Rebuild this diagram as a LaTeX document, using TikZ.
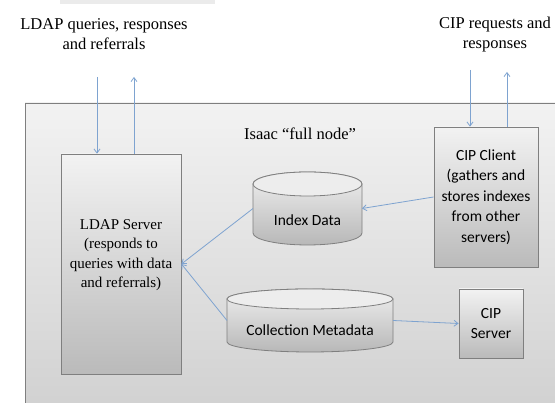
\documentclass[tikz,border=0pt]{standalone}
\usepackage{fontspec}
\setmainfont{Liberation Serif}
\newfontfamily\carlitofont{Carlito}
\usetikzlibrary{arrows.meta,shadows}
\definecolor{arrowblue}{HTML}{7EA3D0}
\definecolor{bordergray}{HTML}{7F7F7F}
\tikzset{
  conn/.style={draw=arrowblue,line width=0.8pt,-{Straight Barb[length=4pt,width=6pt]}},
  procbox/.style={draw=bordergray,line width=0.8pt,top color=black!5,bottom color=black!27,
    drop shadow={shadow xshift=1.2pt,shadow yshift=-1.2pt,opacity=0.3},align=center,inner sep=0pt},
  serifsm/.style={font=\fontsize{15}{19.5}\selectfont,align=center,inner sep=0pt},
  sanssm/.style={font=\carlitofont\fontsize{15.5}{20.5}\selectfont},
  lbl/.style={font=\fontsize{16.5}{20}\selectfont,align=center,inner sep=0pt},
  cylbody/.style={draw=bordergray,line width=0.8pt,top color=black!6,bottom color=black!28},
  cyltop/.style={draw=bordergray,line width=0.8pt,fill=black!7},
  anchorbox/.style={inner sep=0pt,outer sep=0pt}
}
\newcommand{\mycyl}[7]{% name, x1, x2, ytop, ybot, ry, text
  \pgfmathsetmacro{\rx}{(#3-#2)/2}
  \pgfmathsetmacro{\cx}{(#2+#3)/2}
  \pgfmathsetmacro{\cy}{(#4+#5)/2}
  \shade[cylbody] (#2,#4-#6) -- (#2,#5+#6) arc[start angle=180,end angle=360,x radius=\rx,y radius=#6] -- (#3,#4-#6) arc[start angle=0,end angle=180,x radius=\rx,y radius=#6] -- cycle;
  \draw[cyltop] (\cx,#4-#6) ellipse[x radius=\rx,y radius=#6];
  \node[anchorbox,minimum width={(#3-#2)*1pt},minimum height={(#4-#5)*1pt}] (#1) at (\cx,\cy) {};
  \node[sanssm] at (\cx,{(#4-2*#6+#5)/2}) {#7};
}
\begin{document}
\begin{tikzpicture}[x=1pt,y=1pt]
\useasboundingbox (0,0) rectangle (555,403);
% faint strip at the top
\fill[black!8] (60,399) rectangle (215,403);
% outer box
\shade[draw=bordergray,line width=0.8pt,top color=black!5,bottom color=black!18] (25,-5) rectangle (565,300);
\node[lbl] (isaac) at (300,269) {Isaac “full node”};
% labels
\node[lbl] (ldaplbl) at (104,369) {LDAP queries, responses\\and referrals};
\node[lbl] (ciplbl) at (495,368) {CIP requests and\\responses};
% boxes
\node[procbox,minimum width=120pt,minimum height=220pt] (ldap) at (121,139) {};
\node[serifsm] (ldaptext) at ([yshift=9pt]ldap.center) {LDAP Server\\(responds to\\queries with data\\and referrals)};
\node[procbox,sanssm,minimum width=104pt,minimum height=140pt] (client) at (486,206) {CIP Client\\(gathers and\\stores indexes\\from other\\servers)};
\node[procbox,sanssm,minimum width=64pt,minimum height=69pt] (server) at (491,79.5) {CIP\\Server};
% cylinders
\mycyl{idx}{253}{362}{231}{158}{12}{Index Data}
\mycyl{coll}{227}{393}{114}{51}{10}{Collection Metadata}
% external coordinates
\coordinate (ldapin) at (97,326);
\coordinate (ldapout) at (134,326);
\coordinate (cipin) at (470,333);
\coordinate (cipout) at (507,331);
% connectors
\draw[conn] (ldapin) -- (ldapin |- ldap.north);
\draw[conn] (ldapout |- ldap.north) -- (ldapout);
\draw[conn] (cipin) -- (cipin |- client.north);
\draw[conn] (cipout |- client.north) -- (cipout);
\draw[conn] (client.west) -- (idx.east);
\draw[conn] (idx.west) -- (ldap.east);
\draw[conn] (coll.west) -- (ldap.east);
\draw[conn] (coll.east) -- (server.west);
\end{tikzpicture}
\end{document}
